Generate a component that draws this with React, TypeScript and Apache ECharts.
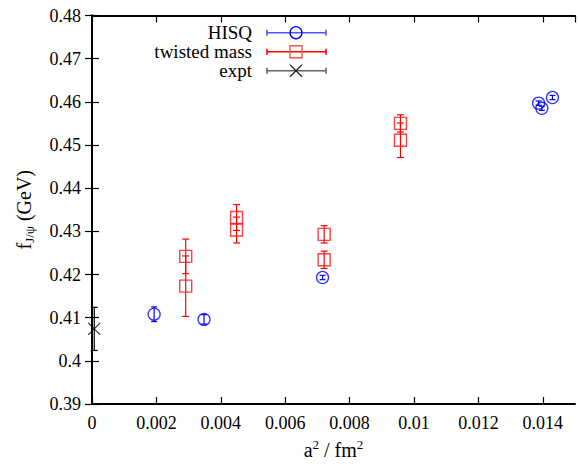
import React, { useEffect, useRef } from "react";
import * as echarts from "echarts";

// ---- data ----
const hisqX = [0.00193, 0.00348, 0.00716, 0.01387, 0.01397, 0.0143];
const hisqY = [0.4108, 0.4096, 0.4193, 0.4597, 0.4585, 0.461];
const hisqErr = [0.0017, 0.0011, 0.0005, 0.0005, 0.0005, 0.0005];

const tmX = [0.00291, 0.00291, 0.00449, 0.00449, 0.00721, 0.00721, 0.00958, 0.00958];
const tmY = [0.4242, 0.4173, 0.4332, 0.4303, 0.4293, 0.4234, 0.455, 0.4511];
const tmErr = [0.004, 0.007, 0.003, 0.003, 0.002, 0.002, 0.002, 0.004];

const exptX = [0.00007];
const exptY = [0.4074];
const exptErr = [0.005];

const xTicks = { min: 0, max: 0.015, interval: 0.002 };
const yTicks = { min: 0.39, max: 0.48, interval: 0.01 };

const legendNames = ["HISQ", "twisted mass", "expt"];

const FONT = '"Liberation Serif", "Times New Roman", serif';

function errBars(xs: number[], ys: number[], es: number[]) {
  return xs.map((x, i) => [x, ys[i] - es[i], ys[i] + es[i]]);
}

function errSeries(name: string, data: number[][], color: string, cap: number) {
  return {
    type: "custom",
    name,
    xAxisIndex: 0,
    yAxisIndex: 0,
    data,
    silent: true,
    z: 3,
    renderItem: (_params: any, api: any) => {
      const x = api.value(0);
      const lo = api.value(1);
      const hi = api.value(2);
      const p1 = api.coord([x, hi]);
      const p2 = api.coord([x, lo]);
      const st = { stroke: color, lineWidth: 1.2 };
      return {
        type: "group",
        children: [
          { type: "line", shape: { x1: p1[0], y1: p1[1], x2: p2[0], y2: p2[1] }, style: st },
          { type: "line", shape: { x1: p1[0] - cap, y1: p1[1], x2: p1[0] + cap, y2: p1[1] }, style: st },
          { type: "line", shape: { x1: p2[0] - cap, y1: p2[1], x2: p2[0] + cap, y2: p2[1] }, style: st },
        ],
      };
    },
  };
}

function legendRow(label: string, y: number, lineColor: string, marker: any) {
  const x1 = 267;
  const x2 = 326;
  const st = { stroke: lineColor, lineWidth: 1.6 };
  return [
    {
      type: "text",
      x: 252,
      y,
      style: {
        text: label,
        font: `19px ${FONT}`,
        fill: "#000",
        align: "right",
        verticalAlign: "middle",
        textAlign: "right",
        textVerticalAlign: "middle",
      },
    },
    { type: "line", shape: { x1, y1: y, x2, y2: y }, style: st },
    { type: "line", shape: { x1, y1: y - 3, x2: x1, y2: y + 3 }, style: st },
    { type: "line", shape: { x1: x2, y1: y - 3, x2, y2: y + 3 }, style: st },
    marker,
  ];
}

const fmt = (v: number) => String(+v.toFixed(4));

export default function App() {
  const ref = useRef<HTMLDivElement>(null);
  useEffect(() => {
    if (!ref.current) return;
    const chart = echarts.init(ref.current, undefined, { renderer: "svg" });
    const axisLine = { show: true, lineStyle: { color: "#000", width: 2 } };
    const axisTick = { show: true, inside: true, length: 7, lineStyle: { color: "#000", width: 1.2 } };
    const labelStyle = { color: "#000", fontFamily: FONT, fontSize: 18 };

    const mx = 296;
    const option: any = {
      animation: false,
      backgroundColor: "#fff",
      grid: { left: 92, right: 4, top: 15.5, bottom: 60, containLabel: false, outerBoundsMode: "none" },
      xAxis: [
        {
          type: "value",
          position: "bottom",
          min: xTicks.min,
          max: xTicks.max,
          interval: xTicks.interval,
          axisLine,
          axisTick,
          splitLine: { show: false },
          axisLabel: { ...labelStyle, margin: 10, showMaxLabel: false, formatter: fmt },
          name: "{n|a}{sup|2}{n| / fm}{sup|2}",
          nameLocation: "middle",
          nameGap: 34,
          nameTextStyle: {
            color: "#000",
            fontFamily: FONT,
            fontSize: 20,
            rich: {
              n: { fontFamily: FONT, fontSize: 20, lineHeight: 24, color: "#000" },
              sup: { fontFamily: FONT, fontSize: 13, lineHeight: 13, verticalAlign: "top", color: "#000" },
            },
          },
        },
        {
          type: "value",
          position: "top",
          min: xTicks.min,
          max: xTicks.max,
          interval: xTicks.interval,
          axisLine,
          axisTick,
          splitLine: { show: false },
          axisLabel: { show: false },
        },
      ],
      yAxis: [
        {
          type: "value",
          position: "left",
          min: yTicks.min,
          max: yTicks.max,
          interval: yTicks.interval,
          axisLine,
          axisTick,
          splitLine: { show: false },
          axisLabel: { ...labelStyle, margin: 11, formatter: fmt },
          name: "{n|f}{sub|J/ψ}{n| (GeV)}",
          nameLocation: "middle",
          nameGap: 56,
          nameTextStyle: {
            color: "#000",
            fontFamily: FONT,
            fontSize: 20,
            rich: {
              n: { fontFamily: FONT, fontSize: 20, lineHeight: 24, color: "#000" },
              sub: { fontFamily: FONT, fontSize: 13, lineHeight: 13, verticalAlign: "bottom", color: "#000" },
            },
          },
        },
        {
          type: "value",
          position: "right",
          min: yTicks.min,
          max: yTicks.max,
          interval: yTicks.interval,
          axisLine,
          axisTick,
          splitLine: { show: false },
          axisLabel: { show: false },
        },
      ],
      series: [
        errSeries("HISQ err", errBars(hisqX, hisqY, hisqErr), "#0000ff", 3),
        errSeries("tm err", errBars(tmX, tmY, tmErr), "#ff0000", 3.5),
        errSeries("expt err", errBars(exptX, exptY, exptErr), "#000", 3.5),
        {
          type: "scatter",
          name: legendNames[0],
          data: hisqX.map((x, i) => [x, hisqY[i]]),
          symbol: "circle",
          symbolSize: 12,
          itemStyle: { color: "rgba(0,0,0,0)", borderColor: "#0000ff", borderWidth: 1.3 },
          z: 4,
        },
        {
          type: "scatter",
          name: legendNames[1],
          data: tmX.map((x, i) => [x, tmY[i]]),
          symbol: "rect",
          symbolSize: 12,
          itemStyle: { color: "rgba(0,0,0,0)", borderColor: "#ff2020", borderWidth: 1.4, opacity: 0.85 },
          z: 4,
        },
        {
          type: "scatter",
          name: legendNames[2],
          data: exptX.map((x, i) => [x, exptY[i]]),
          symbol: "path://M0,0L10,10M10,0L0,10",
          symbolSize: 12,
          itemStyle: { color: "rgba(0,0,0,0)", borderColor: "#000", borderWidth: 1.2 },
          z: 4,
        },
      ],
      graphic: [
        ...legendRow(legendNames[0], 32.7, "#5555ff", {
          type: "circle",
          shape: { cx: mx, cy: 32.7, r: 6 },
          style: { fill: "none", stroke: "#0000ff", lineWidth: 1.3 },
        }),
        ...legendRow(legendNames[1], 51.7, "#ff0000", {
          type: "rect",
          shape: { x: mx - 6, y: 51.7 - 6, width: 12, height: 12 },
          style: { fill: "none", stroke: "#ff5050", lineWidth: 1.4 },
        }),
        ...legendRow(legendNames[2], 70.7, "#666", {
          type: "group",
          children: [
            { type: "line", shape: { x1: mx - 6, y1: 64.7, x2: mx + 6, y2: 76.7 }, style: { stroke: "#222", lineWidth: 1.3 } },
            { type: "line", shape: { x1: mx - 6, y1: 76.7, x2: mx + 6, y2: 64.7 }, style: { stroke: "#222", lineWidth: 1.3 } },
          ],
        }),
      ],
    };
    chart.setOption(option);
    return () => chart.dispose();
  }, []);
  return (
    <div
      ref={ref}
      style={{ position: "fixed", left: 0, top: 0, width: 579, height: 464, background: "#fff" }}
    />
  );
}
